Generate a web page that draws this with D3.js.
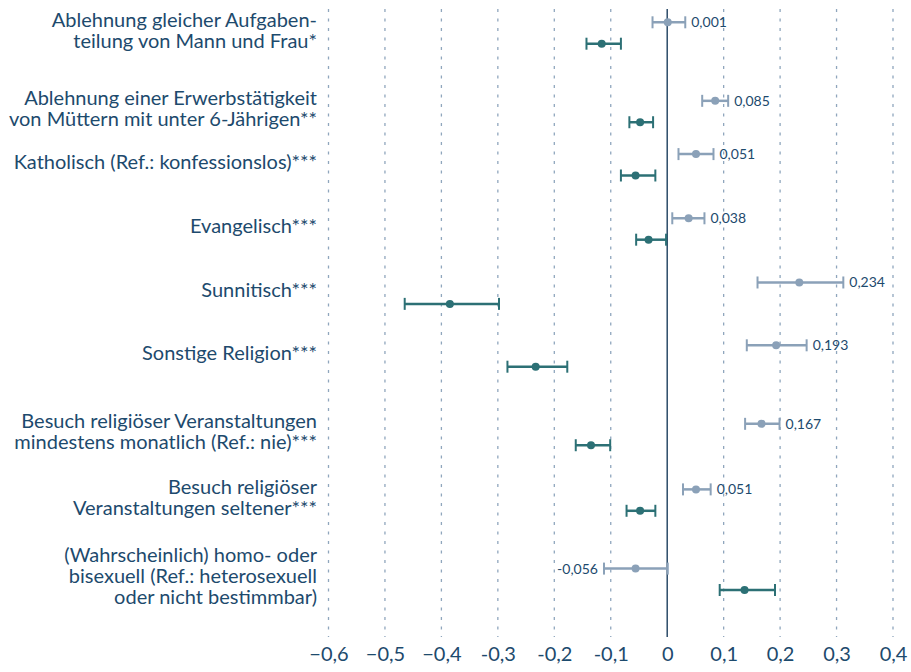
<!DOCTYPE html>
<html>
<head>
<meta charset="utf-8">
<title>Koeffizienten</title>
<script src="https://d3js.org/d3.v7.min.js"></script>
<style>
  body { margin: 0; background: #fff; }
  text { font-family: "Source Sans Pro", Lato, "Open Sans", sans-serif; fill: #1d4a6d; }
</style>
</head>
<body>
<svg id="chart" width="911" height="672"></svg>
<script>
// row labels (one array entry per line)
const categories = [
  ["Ablehnung gleicher Aufgaben-", "teilung von Mann und Frau*"],
  ["Ablehnung einer Erwerbstätigkeit", "von Müttern mit unter 6-Jährigen**"],
  ["Katholisch (Ref.: konfessionslos)***"],
  ["Evangelisch***"],
  ["Sunnitisch***"],
  ["Sonstige Religion***"],
  ["Besuch religiöser Veranstaltungen", "mindestens monatlich (Ref.: nie)***"],
  ["Besuch religiöser", "Veranstaltungen seltener***"],
  ["(Wahrscheinlich) homo- oder", "bisexuell (Ref.: heterosexuell", "oder nicht bestimmbar)"]
];
// position of each row on the category axis (rows are not evenly spaced)
const rowSlot = [0, 1.15, 1.93, 2.87, 3.81, 4.73, 5.88, 6.84, 8];

// light series (labelled)
const lightVal = [0.001, 0.085, 0.051, 0.038, 0.234, 0.193, 0.167, 0.051, -0.056];
const lightLo  = [-0.026, 0.062, 0.020, 0.009, 0.160, 0.141, 0.138, 0.028, -0.112];
const lightHi  = [0.032, 0.108, 0.082, 0.066, 0.312, 0.247, 0.199, 0.077, 0.001];
const lightLabels = ["0,001", "0,085", "0,051", "0,038", "0,234", "0,193", "0,167", "0,051", "-0,056"];

// dark series
const darkVal = [-0.116, -0.048, -0.056, -0.033, -0.385, -0.233, -0.135, -0.048, 0.137];
const darkLo  = [-0.143, -0.067, -0.082, -0.055, -0.465, -0.283, -0.162, -0.072, 0.093];
const darkHi  = [-0.082, -0.025, -0.021, -0.002, -0.298, -0.177, -0.101, -0.021, 0.191];

const tickVals = [-0.6, -0.5, -0.4, -0.3, -0.2, -0.1, 0, 0.1, 0.2, 0.3, 0.4];
const tickLabels = ["\u22120,6", "\u22120,5", "\u22120,4", "-0,3", "-0,2", "-0,1", "0", "0,1", "0,2", "0,3", "0,4"];

const lightColor = "#8ba1b8", darkColor = "#2c7075";

const svg = d3.select("#chart");
const x = d3.scaleLinear().domain([-0.6, 0.4]).range([328.5, 893]);
const y = d3.scaleLinear().domain([0, 8]).range([33, 579.3]);
const off = 10.7, gridTop = 9, gridBottom = 637;

// dotted grid
svg.append("g").selectAll("line")
  .data(tickVals.filter(d => d !== 0))
  .enter().append("line")
  .attr("x1", d => x(d)).attr("x2", d => x(d))
  .attr("y1", gridTop).attr("y2", gridBottom)
  .attr("stroke", "#8fa6bd").attr("stroke-width", 1.3)
  .attr("stroke-dasharray", "3,6.5");

// zero line
svg.append("line")
  .attr("x1", x(0)).attr("x2", x(0))
  .attr("y1", gridTop).attr("y2", gridBottom)
  .attr("stroke", "#1d3f5e").attr("stroke-width", 1.4);

// x axis labels
const axis = d3.axisBottom(x).tickValues(tickVals)
  .tickFormat((d, i) => tickLabels[i]).tickSize(0).tickPadding(0);
const ax = svg.append("g").attr("transform", "translate(0,647)").call(axis);
ax.select(".domain").remove();
ax.selectAll("text").attr("dy", "0.71em").style("font-size", "20px").attr("fill", "#1d4a6d");

// category labels
const rows = categories.map((lines, i) => ({ lines, i }));
svg.append("g").selectAll("text")
  .data(rows)
  .enter().append("text")
  .attr("text-anchor", "end")
  .style("font-size", "20px")
  .each(function (d) {
    const n = d.lines.length;
    d3.select(this).selectAll("tspan")
      .data(d.lines)
      .enter().append("tspan")
      .attr("x", 317)
      .attr("y", (l, k) => y(rowSlot[d.i]) + 4 + (k - (n - 1) / 2) * 21)
      .text(l => l);
  });

function drawSeries(vals, lo, hi, color, dy) {
  const g = svg.append("g");
  const idx = d3.range(vals.length);
  g.selectAll("line.bar").data(idx).enter().append("line")
    .attr("x1", i => x(lo[i])).attr("x2", i => x(hi[i]))
    .attr("y1", i => y(rowSlot[i]) + dy).attr("y2", i => y(rowSlot[i]) + dy)
    .attr("stroke", color).attr("stroke-width", 2.5);
  [lo, hi].forEach(arr => {
    g.selectAll(null).data(idx).enter().append("line")
      .attr("x1", i => x(arr[i])).attr("x2", i => x(arr[i]))
      .attr("y1", i => y(rowSlot[i]) + dy - 6).attr("y2", i => y(rowSlot[i]) + dy + 6)
      .attr("stroke", color).attr("stroke-width", 2);
  });
  g.selectAll("circle").data(idx).enter().append("circle")
    .attr("cx", i => x(vals[i])).attr("cy", i => y(rowSlot[i]) + dy)
    .attr("r", 4).attr("fill", color);
}

drawSeries(lightVal, lightLo, lightHi, lightColor, -off);
drawSeries(darkVal, darkLo, darkHi, darkColor, off);

// value labels for light series
svg.append("g").selectAll("text")
  .data(d3.range(lightVal.length))
  .enter().append("text")
  .attr("x", i => lightVal[i] < 0 ? x(lightLo[i]) - 6 : x(lightHi[i]) + 6)
  .attr("y", i => y(rowSlot[i]) - off)
  .attr("dy", "0.35em")
  .attr("text-anchor", i => lightVal[i] < 0 ? "end" : "start")
  .style("font-size", "14px")
  .text(i => lightLabels[i]);
</script>
</body>
</html>
